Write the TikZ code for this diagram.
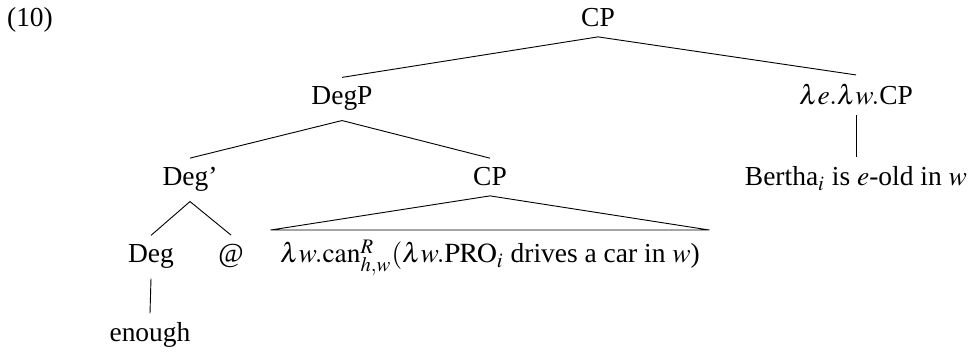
\documentclass[tikz,border=0pt,12pt]{standalone}
\usepackage{amsmath}
\usepackage{mathptmx}
\usepackage{fontspec}
\setmainfont{Liberation Serif}
\usetikzlibrary{positioning}

\begin{document}
\begin{tikzpicture}[x=0.01535cm, y=-0.01535cm, every node/.style={anchor=base}]
        \useasboundingbox (0,0) rectangle (976,352);
        \node (Ex) at (30,27) {(10)};
        \node (CP) at (598,27) {CP};
        \node (DegP) at (342,105) {DegP};
        \node (LamCP) at (856,105) {$\lambda e.\lambda w.$CP};
        \node (DegBar) at (190,186) {Deg'};
        \node (SubCP) at (490,186) {CP};
        \node (Bertha) at (856,186) {Bertha$_i$ is $e$-old in $w$};
        \node (Deg) at (151,263) {Deg};
        \node (At) at (231,263) {@};
        \node (Can) at (490,263) {$\lambda w.\mathrm{can}^R_{h,w}(\lambda w.\mathrm{PRO}_i$ drives a car in $w$)};
        \node (Enough) at (150,342) {enough};

        \path[draw]
        (CP.south) edge (DegP.north)
                   edge (LamCP.north)
        (DegP.south) edge (DegBar.north)
                     edge (SubCP.north)
        (LamCP.south) edge (Bertha.north)
        (DegBar.south) edge (Deg.north)
                       edge (At.north)
        (Deg.south) edge (Enough.north);

        % roof over the unanalysed CP
        \draw (SubCP.south) -- (Can.north west) -- (Can.north east) -- cycle;
\end{tikzpicture}
\end{document}
